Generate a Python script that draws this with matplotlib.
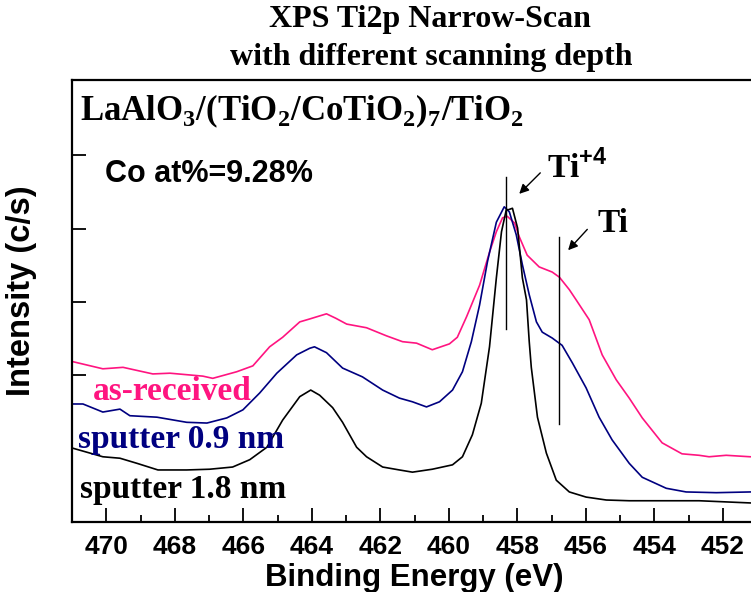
import matplotlib.pyplot as plt
from matplotlib.ticker import MultipleLocator

plt.rcParams['mathtext.fontset'] = 'custom'
plt.rcParams['mathtext.rm'] = 'Liberation Serif:bold'
plt.rcParams['mathtext.sf'] = 'Liberation Sans:bold'

# as-received
e_asr = [471.00, 470.10, 469.80, 469.51, 468.64, 468.14, 467.18, 466.89, 466.19, 465.72,
         465.23, 464.85, 464.35, 464.06, 463.57, 463.30, 462.98, 462.40, 461.82, 461.35,
         460.94, 460.48, 459.98, 459.75, 459.48, 459.40, 459.10, 458.81, 458.61, 458.43,
         458.29, 458.08, 457.94, 457.71, 457.36, 456.98, 456.77, 456.48, 456.28, 455.90,
         455.52, 455.11, 454.73, 454.35, 453.77, 453.19, 452.69, 452.40, 451.90, 451.20]
i_asr = [2.19, 2.09, 2.10, 2.11, 2.02, 2.03, 1.99, 1.96, 2.05, 2.13,
         2.39, 2.52, 2.73, 2.77, 2.84, 2.78, 2.70, 2.65, 2.54, 2.46,
         2.44, 2.35, 2.43, 2.52, 2.80, 2.89, 3.23, 3.68, 3.96, 4.15,
         4.17, 4.08, 3.89, 3.64, 3.48, 3.41, 3.34, 3.17, 3.03, 2.76,
         2.28, 1.94, 1.69, 1.42, 1.08, 0.93, 0.91, 0.89, 0.91, 0.89]

# sputter 0.9 nm
e_s09 = [471.00, 470.68, 470.10, 469.60, 469.31, 468.52, 467.65, 467.06, 466.48, 466.01,
         465.52, 465.02, 464.44, 464.06, 463.92, 463.57, 463.10, 462.52, 461.93, 461.44,
         461.06, 460.65, 460.27, 459.89, 459.60, 459.34, 459.10, 458.87, 458.61, 458.38,
         458.23, 458.03, 457.85, 457.65, 457.44, 457.27, 456.98, 456.69, 456.39, 455.99,
         455.61, 455.23, 454.73, 454.35, 453.65, 453.07, 452.19, 451.20]
i_s09 = [1.61, 1.61, 1.50, 1.54, 1.45, 1.43, 1.36, 1.35, 1.42, 1.53,
         1.76, 2.03, 2.28, 2.37, 2.39, 2.31, 2.10, 1.98, 1.80, 1.69,
         1.64, 1.57, 1.64, 1.80, 2.05, 2.46, 2.96, 3.55, 4.09, 4.30,
         4.23, 3.92, 3.51, 3.10, 2.73, 2.59, 2.51, 2.41, 2.17, 1.83,
         1.43, 1.12, 0.80, 0.61, 0.46, 0.41, 0.40, 0.41]

# sputter 1.8 nm
e_s18 = [471.00, 470.10, 469.60, 469.10, 468.49, 467.65, 466.98, 466.31, 465.81, 465.31,
         464.85, 464.35, 464.03, 463.77, 463.39, 463.10, 462.69, 462.40, 461.93, 461.44,
         461.06, 460.48, 459.89, 459.60, 459.31, 459.05, 458.81, 458.61, 458.46, 458.32,
         458.26, 458.14, 457.99, 457.85, 457.73, 457.65, 457.59, 457.41, 457.15, 456.86,
         456.48, 455.99, 455.40, 454.73, 453.65, 452.69, 451.20]
i_s18 = [1.01, 0.89, 0.87, 0.80, 0.71, 0.71, 0.72, 0.75, 0.85, 1.02,
         1.39, 1.71, 1.80, 1.73, 1.56, 1.36, 1.02, 0.89, 0.75, 0.71,
         0.68, 0.72, 0.78, 0.89, 1.19, 1.62, 2.39, 3.33, 3.96, 4.26,
         4.26, 4.28, 4.01, 3.33, 3.03, 2.46, 2.11, 1.43, 0.94, 0.57,
         0.41, 0.34, 0.30, 0.29, 0.29, 0.29, 0.26]

# reference peak positions (eV)
ti4_pos = 458.32
ti_pos = 456.77

pink = '#FF1480'
navy = '#000080'
serif = 'Liberation Serif'
sans = 'Liberation Sans'

fig = plt.figure(figsize=(7.51, 5.92), dpi=100)
ax = fig.add_axes([72 / 751, 1 - 522 / 592, (757 - 72) / 751, 442 / 592])

ax.plot(e_asr, i_asr, color=pink, lw=1.2)
ax.plot(e_s09, i_s09, color=navy, lw=1.2)
ax.plot(e_s18, i_s18, color='black', lw=1.2)

# peak markers
ax.plot([ti4_pos, ti4_pos], [2.63, 4.71], color='black', lw=1)
ax.plot([ti_pos, ti_pos], [1.34, 3.89], color='black', lw=1)
arrow = dict(arrowstyle='-|>', color='black', lw=1, mutation_scale=14)
ax.annotate('', xy=(458.00, 4.45), xytext=(457.27, 4.79), arrowprops=arrow)
ax.annotate('', xy=(456.57, 3.68), xytext=(455.90, 4.02), arrowprops=arrow)
ax.text(457.12, 4.69, 'Ti$^{\\mathsf{+4}}$', fontfamily=serif, fontweight='bold', fontsize=24)
ax.text(455.66, 3.96, 'Ti', fontfamily=serif, fontweight='bold', fontsize=24)

ax.set_xlim(471, 451)
ax.set_ylim(0, 6.03)
ax.xaxis.set_major_locator(MultipleLocator(2))
ax.xaxis.set_minor_locator(MultipleLocator(1))
ax.set_yticks([2, 3, 4, 5])
ax.set_yticklabels([])
ax.tick_params(axis='both', which='major', direction='in', length=10, width=1.3, pad=9)
ax.tick_params(axis='both', which='minor', direction='in', length=5, width=1.3)
ax.tick_params(axis='y', which='both', left=True, right=False)
for lab in ax.get_xticklabels():
    lab.set_fontfamily(sans)
    lab.set_fontweight('bold')
    lab.set_fontsize(19)
for sp in ax.spines.values():
    sp.set_linewidth(1.6)

# labels inside the plot
ax.text(470.77, 5.48, 'LaAlO$_3$/(TiO$_2$/CoTiO$_2$)$_7$/TiO$_2$',
        fontfamily=serif, fontweight='bold', fontsize=25)
ax.text(470.04, 4.64, 'Co at%=9.28%', fontfamily=sans, fontweight='bold', fontsize=22)
ax.text(470.39, 1.66, 'as-received', color=pink, fontfamily=serif, fontweight='bold', fontsize=24)
ax.text(470.83, 1.01, 'sputter 0.9 nm', color=navy, fontfamily=serif, fontweight='bold', fontsize=24)
ax.text(470.77, 0.33, 'sputter 1.8 nm', color='black', fontfamily=serif, fontweight='bold', fontsize=24)

fig.text(430 / 751, 1 - 20 / 592, 'XPS Ti2p Narrow-Scan', ha='center', va='center',
         fontfamily=serif, fontweight='bold', fontsize=23)
fig.text(431 / 751, 1 - 57 / 592, 'with different scanning depth', ha='center', va='center',
         fontfamily=serif, fontweight='bold', fontsize=23)
fig.text(414 / 751, 1 - 578 / 592, 'Binding Energy (eV)', ha='center', va='center',
         fontfamily=sans, fontweight='bold', fontsize=22.5)
fig.text(22 / 751, 1 - 291 / 592, 'Intensity (c/s)', ha='center', va='center', rotation=90,
         fontfamily=sans, fontweight='bold', fontsize=23.5)

fig.savefig('out.png', dpi=100)
